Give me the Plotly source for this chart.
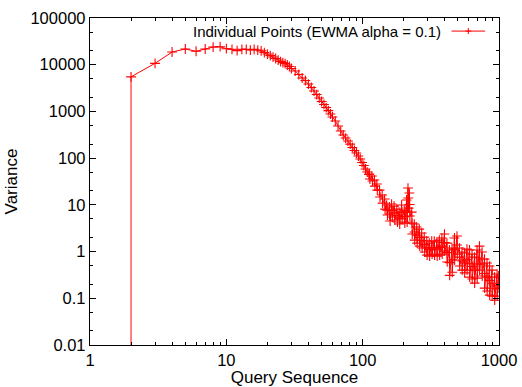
import plotly.graph_objects as go

# ---- data (Query Sequence vs EWMA variance) ----
query_seq = [
    2, 2, 3, 4, 5, 6, 7, 8, 9, 10, 11, 12, 13, 14, 15, 16, 17,
    18, 19, 20, 21, 22, 23, 24, 25, 26, 27, 28, 29, 30, 32, 34, 36, 38, 40,
    42, 44, 46, 48, 50, 52, 54, 56, 58, 60, 63, 66, 69, 72, 75, 78, 81, 84,
    87, 90, 93, 96, 99, 102, 105, 108, 111,
    112, 113, 117, 118, 122, 123, 127, 128, 133, 134, 139, 140, 145, 146,
    150, 151, 152, 157, 158, 159, 163, 164, 165, 170, 171, 172,
    178, 179, 180, 185, 186, 187, 193, 194, 195, 202, 203, 204,
    210, 211, 212, 215, 216, 217, 220, 221, 222, 229, 230, 231,
    239, 240, 241, 249, 250, 251, 260, 261, 262, 271, 272, 273,
    283, 284, 285, 295, 296, 297, 308, 309, 310, 321, 322, 323,
    335, 336, 337, 350, 351, 352, 365, 366, 367, 381, 382, 383,
    398, 399, 400, 415, 416, 417, 433, 434, 435, 452, 453, 454,
    471, 472, 473, 492, 493, 494, 513, 514, 515, 535, 536, 537,
    558, 559, 560, 582, 583, 584, 608, 609, 610, 634, 635, 636,
    661, 662, 663, 690, 691, 692, 719, 720, 721, 751, 752, 753,
    783, 784, 785, 817, 818, 819, 853, 854, 855, 889, 890, 891,
    928, 929, 930, 968, 969, 970, 995, 1000,
]
variance = [
    0.001, 5500, 10700, 18700, 21700, 19400, 21700, 23900, 24300, 22000,
    21400, 20000, 21400, 21400, 20600, 21400, 20600,
    19800, 18200, 16900, 15700, 14600, 13600, 12600, 11700, 11100, 10600,
    9860, 9150, 8290, 7330, 6170, 5190, 4590, 3860,
    3250, 2740, 2300, 1940, 1630, 1410, 1210, 1040, 880, 760, 623, 487, 380,
    313, 269, 232, 200, 169,
    146, 129, 111, 96, 80.5, 69.5, 58.5, 50.4, 44.6,
    45.7, 35.7, 41.4, 32.4, 34.0, 25.2, 27.9, 20.7, 20.7, 14.7, 16.2, 10.9,
    13.3, 8.1,
    9.9, 7.7, 6.05, 9.0, 6.35, 4.5, 10.4, 7.55, 5.48, 9.4, 6.67, 4.73,
    8.1, 5.9, 4.28, 7.0, 5.2, 3.88, 9.9, 7.0, 4.97, 7.7, 5.6, 4.07,
    12.7, 7.4, 4.28, 22.9, 14.0, 8.5, 17.9, 10.2, 5.76, 7.0, 4.07, 2.37,
    3.88, 2.62, 1.76, 3.35, 2.25, 1.52, 3.03, 2.0, 1.31, 2.49, 1.72, 1.19,
    2.04, 1.41, 0.976, 1.68, 1.19, 0.84, 1.52, 1.10, 0.80, 1.68, 1.22, 0.88,
    1.68, 1.19, 0.84, 1.60, 1.13, 0.80, 1.76, 1.22, 0.84, 1.95, 1.31, 0.88,
    2.37, 1.56, 1.02, 1.52, 0.95, 0.60, 1.08, 0.58, 0.31, 1.19, 0.66, 0.36,
    1.95, 1.13, 0.66, 2.15, 1.38, 0.88, 1.19, 0.76, 0.49, 0.976, 0.63, 0.40,
    0.93, 0.57, 0.35, 1.13, 0.67, 0.40, 1.08, 0.55, 0.284, 0.88, 0.48, 0.258,
    0.76, 0.40, 0.211, 1.08, 0.54, 0.27, 1.31, 0.73, 0.40, 0.976, 0.54, 0.30,
    0.69, 0.34, 0.165, 0.57, 0.284, 0.143, 0.49, 0.24, 0.117, 0.40, 0.21, 0.111,
    0.284, 0.16, 0.091, 0.33, 0.19, 0.111, 0.30, 0.165,
]

x_tick_vals = [1, 10, 100, 1000]
x_tick_text = ["1", "10", "100", "1000"]
y_tick_vals = [0.01, 0.1, 1, 10, 100, 1000, 10000, 100000]
y_tick_text = ["0.01", "0.1", "1", "10", "100", "1000", "10000", "100000"]

series_name = "Individual Points (EWMA alpha = 0.1)"
x_title = "Query Sequence"
y_title = "Variance"

RED = "#ff0000"
FONT = "Liberation Sans, Arial, sans-serif"

fig = go.Figure()
fig.add_trace(go.Scatter(
    x=query_seq, y=variance, mode="lines+markers", name=series_name,
    line=dict(color=RED, width=1),
    marker=dict(symbol="cross-thin", size=7, color=RED,
                line=dict(color=RED, width=1.1)),
    showlegend=False,
))

axis_common = dict(
    type="log", showgrid=False, zeroline=False, automargin=False,
    showline=True, linecolor="black", linewidth=1.4, mirror="allticks",
    ticks="inside", ticklen=6, tickwidth=1, tickcolor="black",
    tickfont=dict(family=FONT, size=16.5, color="black"),
)

fig.update_xaxes(
    **axis_common, range=[0, 3],
    tickmode="array", tickvals=x_tick_vals, ticktext=x_tick_text,
    minor=dict(ticks="inside", ticklen=3, tickwidth=1, tickcolor="black", dtick="D1"),
    title=dict(text=x_title, font=dict(family=FONT, size=17, color="black"), standoff=4),
)
fig.update_yaxes(
    **axis_common, range=[-2, 5],
    tickmode="array", tickvals=y_tick_vals, ticktext=y_tick_text,
    minor=dict(ticks="inside", ticklen=3, tickwidth=1, tickcolor="black", dtick="D2"),
    title=dict(text=y_title, font=dict(family=FONT, size=17, color="black"), standoff=8),
)

# gnuplot-style key: text, then line sample with a marker on its right
key_y = 0.960
fig.add_annotation(
    x=0.863, y=key_y, xref="paper", yref="paper", xanchor="right", yanchor="middle",
    text=series_name, showarrow=False,
    font=dict(family=FONT, size=15, color="black"),
)
fig.add_shape(type="line", xref="paper", yref="paper",
              x0=0.884, x1=0.966, y0=key_y, y1=key_y,
              line=dict(color=RED, width=1))
fig.add_shape(type="line", xref="paper", yref="paper",
              x0=0.925 - 0.0073, x1=0.925 + 0.0073, y0=key_y, y1=key_y,
              line=dict(color=RED, width=1))
fig.add_shape(type="line", xref="paper", yref="paper",
              x0=0.925, x1=0.925, y0=key_y - 0.0092, y1=key_y + 0.0092,
              line=dict(color=RED, width=1))

fig.update_layout(
    width=522, height=387,
    margin=dict(l=90, r=23, t=18, b=42),
    paper_bgcolor="white", plot_bgcolor="white",
    font=dict(family=FONT, color="black"),
)

fig.write_html("out.html")
